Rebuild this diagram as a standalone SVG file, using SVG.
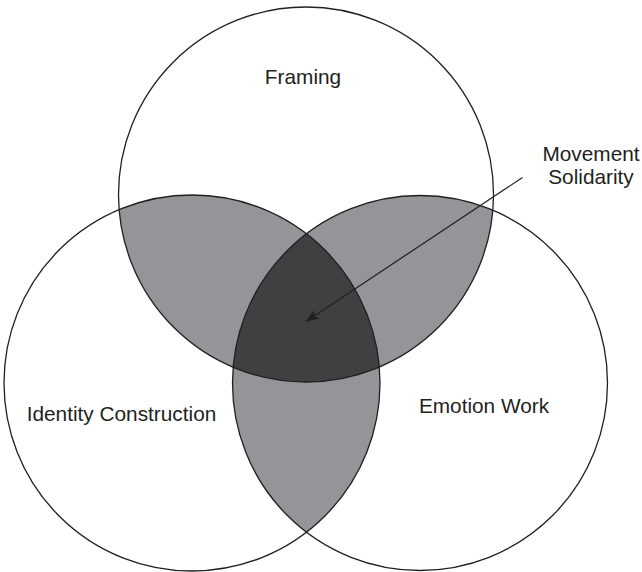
<svg xmlns="http://www.w3.org/2000/svg" width="642" height="572" viewBox="0 0 642 572">
<style>
.lbl{font-family:"Liberation Sans",Arial,sans-serif;font-size:20.8px;fill:#231f20;text-anchor:middle}
.ring{fill:none;stroke:#231f20;stroke-width:1.3}
.pair{fill:#939598}
.triple{fill:#404042}
</style>
<defs>
<circle id="cTop" cx="306" cy="194.5" r="187.5"/>
<circle id="cLeft" cx="192" cy="383" r="188"/>
<circle id="cRight" cx="420" cy="383" r="187.5"/>
<clipPath id="clipTop"><use href="#cTop"/></clipPath>
<clipPath id="clipLeft"><use href="#cLeft"/></clipPath>
<clipPath id="clipRight"><use href="#cRight"/></clipPath>
<marker id="arrow" viewBox="0 0 14 10" refX="13" refY="5" markerWidth="14" markerHeight="10" markerUnits="userSpaceOnUse" orient="auto">
<path d="M0,0 L14,5 L0,10 L3,5 Z" fill="#231f20"/>
</marker>
</defs>
<g id="overlaps">
<g clip-path="url(#clipTop)"><use href="#cLeft" class="pair"/><use href="#cRight" class="pair"/></g>
<g clip-path="url(#clipLeft)"><use href="#cRight" class="pair"/></g>
<g clip-path="url(#clipTop)"><g clip-path="url(#clipLeft)"><use href="#cRight" class="triple"/></g></g>
</g>
<g id="framing"><use href="#cTop" class="ring"/><text class="lbl" x="303" y="84">Framing</text></g>
<g id="identity"><use href="#cLeft" class="ring"/><text class="lbl" x="121.5" y="420.5">Identity Construction</text></g>
<g id="emotion"><use href="#cRight" class="ring"/><text class="lbl" x="484" y="412.5">Emotion Work</text></g>
<g id="solidarity"><text class="lbl" x="591" y="160.5">Movement</text><text class="lbl" x="591" y="183.5">Solidarity</text></g>
<g id="connectors">
<line x1="522.5" y1="177.5" x2="306" y2="321.5" stroke="#231f20" stroke-width="1.2" marker-end="url(#arrow)"/>
</g>
</svg>
